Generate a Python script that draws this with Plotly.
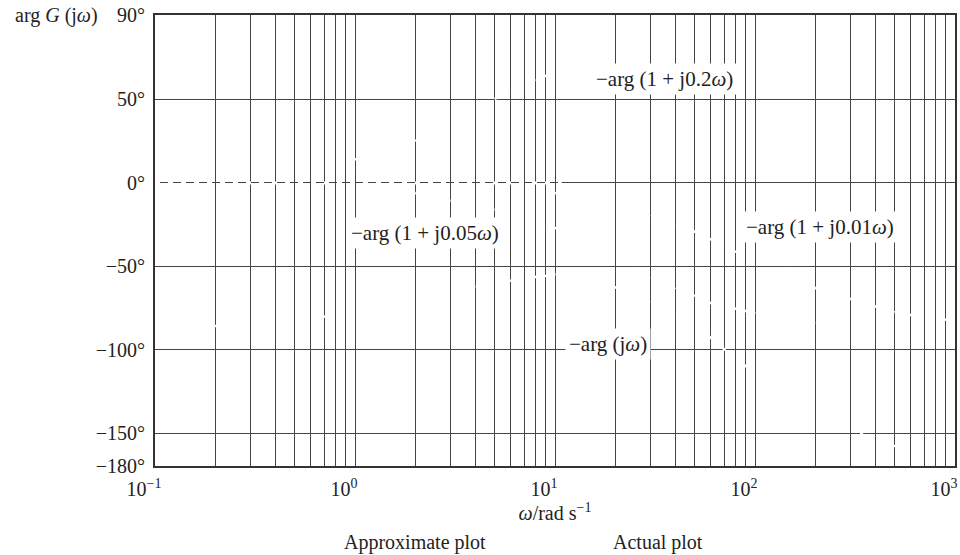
import plotly.graph_objects as go

# ---- axis data ----
decade_vals = [0.1, 1, 10, 100, 1000]
decade_text = ["10<sup>−1</sup>", "10<sup>0</sup>", "10<sup>1</sup>", "10<sup>2</sup>", "10<sup>3</sup>"]
minor_vals = [m * d for d in [0.1, 1, 10, 100] for m in range(2, 10)]
y_tick_vals = [-169.5, -150, -100, -50, 0, 50, 100.5]
y_tick_text = ["−180°", "−150°", "−100°", "−50°", "0°", "50°", "90°"]

# ---- curves (drawn white as in the scan) ----
omega_total = [0.18, 0.3, 0.51, 0.79, 1.0, 1.9, 3.16, 7.1, 10, 19.5, 30.5, 39.8, 52, 61.6, 77.6, 100, 200, 304, 512, 912]
phase_total = [-86, -85, -83, -79, -76, -68, -64, -57, -55, -62, -72, -78, -86, -94, -104, -114, -138, -148, -158, -164]

omega_c02 = [1.0, 2.0, 3.9, 5.1, 7.1, 8.9, 19.5, 30.5]
phase_c02 = [14, 25, 45, 51, 58, 64, 84, 88]

omega_c005 = [2, 5.1, 10, 20, 30, 60, 100, 200]
phase_c005 = [-6, -16, -27, -44, -56, -72, -78, -84]

omega_c001 = [10, 20, 52, 79, 133, 200, 512, 912]
phase_c001 = [-6, -11, -30, -41, -49, -63, -78, -82]

omega_zero = [0.1, 10.8]
phase_zero = [0, 0]

FONT = "Liberation Serif"
GRID = "#454545"
TXT = "#222"

fig = go.Figure()

for om, ph in [(omega_total, phase_total), (omega_c02, phase_c02),
               (omega_c005, phase_c005), (omega_c001, phase_c001)]:
    fig.add_trace(go.Scatter(x=om, y=ph, mode="lines", showlegend=False,
                             line=dict(color="white", width=2.5, dash="3px,6px"),
                             hoverinfo="skip"))

fig.add_trace(go.Scatter(x=omega_zero, y=phase_zero, mode="lines", showlegend=False,
                         line=dict(color="white", width=3, dash="5px,8px"),
                         hoverinfo="skip"))

labels = [
    ("−arg (1 + j0.2<i>ω</i>)", 1.545, 62.4),
    ("−arg (1 + j0.05<i>ω</i>)", 0.35, -30),
    ("−arg (1 + j0.01<i>ω</i>)", 2.325, -26.4),
    ("−arg (j<i>ω</i>)", 1.265, -96.6),
]
for txt, lx, ly in labels:
    fig.add_annotation(x=lx, y=ly, xref="x", yref="y", text=txt, showarrow=False,
                       font=dict(family=FONT, size=21, color=TXT),
                       bgcolor="white", borderpad=3)

# top-left axis label
fig.add_annotation(x=0.0, y=1.0, xref="paper", yref="paper", xanchor="right", yanchor="middle",
                   xshift=-55, text="arg <i>G</i> (j<i>ω</i>)", showarrow=False,
                   font=dict(family=FONT, size=20, color=TXT))

# captions
fig.add_annotation(x=(342 - 155) / 800, y=(466 - 542) / 451, xref="paper", yref="paper",
                   text="Approximate plot", showarrow=False, yanchor="middle",
                   font=dict(family=FONT, size=20, color=TXT))
fig.add_annotation(x=(705 - 155) / 800, y=(466 - 542) / 451, xref="paper", yref="paper",
                   text="Actual plot", showarrow=False, yanchor="middle",
                   font=dict(family=FONT, size=20, color=TXT))

fig.update_xaxes(type="log", range=[-1, 3], automargin=False,
                 tickmode="array", tickvals=decade_vals, ticktext=decade_text,
                 ticks="", showgrid=True, gridcolor=GRID, gridwidth=1.4,
                 minor=dict(tickmode="array", tickvals=minor_vals, showgrid=True,
                            gridcolor=GRID, gridwidth=1.4, ticks=""),
                 showline=True, mirror=True, linecolor="#333", linewidth=2,
                 zeroline=False, ticklabelshift=-11, ticklabelstandoff=4,
                 tickfont=dict(family=FONT, size=20, color=TXT),
                 title=dict(text="<i>ω</i>/rad s<sup>−1</sup>", standoff=7,
                            font=dict(family=FONT, size=20, color=TXT)))
fig.update_yaxes(range=[-169.6, 100.6], automargin=False, tickmode="array", tickvals=y_tick_vals,
                 ticktext=y_tick_text, ticks="", showgrid=True, gridcolor=GRID, gridwidth=1.4,
                 showline=True, mirror=True, linecolor="#333", linewidth=2,
                 zeroline=False, ticklabelstandoff=4,
                 tickfont=dict(family=FONT, size=20, color=TXT))

fig.update_layout(width=960, height=555, plot_bgcolor="white", paper_bgcolor="white",
                  margin=dict(l=155, r=5, t=15, b=89), showlegend=False)

# remove the default page margin so the 960x555 figure fills the window exactly
fig.write_html("out.html", config={"displayModeBar": False},
               post_script="document.body.style.margin='0px';document.body.style.overflow='hidden';")
